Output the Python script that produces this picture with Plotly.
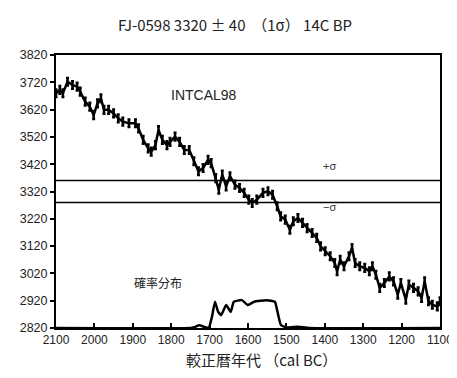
import plotly.graph_objects as go

# calibration curve (INTCAL98): cal BC vs 14C BP
cal_years = [2100, 2090, 2082, 2070, 2057, 2045, 2037, 2024, 2012, 2002, 1992, 1983,
             1975, 1963, 1950, 1938, 1926, 1910, 1893, 1885, 1873, 1860, 1852, 1841,
             1833, 1823, 1811, 1803, 1790, 1778, 1766, 1753, 1741, 1729, 1717, 1704,
             1696, 1684, 1676, 1667, 1657, 1647, 1634, 1622, 1610, 1598, 1589, 1577,
             1561, 1548, 1536, 1524, 1515, 1503, 1491, 1482, 1470, 1458, 1446, 1433,
             1421, 1411, 1399, 1386, 1374, 1368, 1360, 1350, 1337, 1329, 1321, 1309,
             1296, 1284, 1276, 1267, 1257, 1245, 1232, 1221, 1210, 1202, 1189, 1181,
             1169, 1157, 1148, 1140, 1130, 1120, 1107, 1100]
bp_values = [3680, 3692, 3680, 3722, 3710, 3704, 3686, 3649, 3631, 3600, 3643, 3661,
             3619, 3619, 3606, 3588, 3576, 3570, 3570, 3551, 3509, 3478, 3466, 3490,
             3545, 3509, 3490, 3502, 3521, 3502, 3472, 3472, 3431, 3394, 3406, 3436,
             3424, 3369, 3327, 3382, 3339, 3376, 3345, 3333, 3315, 3290, 3278, 3290,
             3315, 3321, 3308, 3266, 3229, 3217, 3180, 3211, 3223, 3205, 3186, 3168,
             3150, 3119, 3101, 3083, 3058, 3028, 3070, 3046, 3083, 3113, 3058, 3046,
             3040, 3028, 3046, 3015, 2967, 2985, 3009, 2991, 2942, 2985, 2924, 2979,
             2967, 2954, 2930, 2991, 2918, 2905, 2899, 2918]
curve_err = 14

# probability distribution, drawn on the same axis above the 2820 baseline
prob_years = [2100, 1750, 1740, 1727, 1712, 1702, 1694, 1686, 1678, 1670, 1657, 1645,
              1637, 1616, 1600, 1584, 1551, 1530, 1525, 1514, 1498, 1469, 1440, 1100]
prob_values = [2820, 2820, 2823, 2830, 2823, 2821, 2860, 2916, 2880, 2867, 2904, 2879,
               2916, 2922, 2904, 2916, 2922, 2916, 2891, 2830, 2822, 2825, 2820, 2820]

sample_bp = 3320
sample_sigma = 40

x_ticks = [2100, 2000, 1900, 1800, 1700, 1600, 1500, 1400, 1300, 1200, 1100]
y_ticks = [2820, 2920, 3020, 3120, 3220, 3320, 3420, 3520, 3620, 3720, 3820]

font = "Liberation Sans"
jp_font = "Noto Sans CJK JP"

fig = go.Figure()

# curve with its error bars
fig.add_trace(go.Scatter(
    x=cal_years, y=bp_values, mode="lines",
    line=dict(color="black", width=2.5),
    error_y=dict(type="constant", value=curve_err, color="black", thickness=2.5, width=1.5),
    hoverinfo="skip",
))

# probability distribution
fig.add_trace(go.Scatter(
    x=prob_years, y=prob_values, mode="lines",
    line=dict(color="black", width=2.5, shape="spline", smoothing=0.4),
    hoverinfo="skip",
))

# +sigma / -sigma lines
for v in [sample_bp + sample_sigma, sample_bp - sample_sigma]:
    fig.add_shape(type="line", xref="x", yref="y", x0=2100, x1=1100, y0=v, y1=v,
                  line=dict(color="black", width=1.5))

fig.add_annotation(x=1715, y=3675, text="INTCAL98", showarrow=False,
                   font=dict(family=font, size=14, color="#222"))
fig.add_annotation(x=1387, y=3413, text="+σ", showarrow=False,
                   font=dict(family=font, size=11, color="#333"))
fig.add_annotation(x=1387, y=3262, text="−σ", showarrow=False,
                   font=dict(family=font, size=11, color="#333"))
fig.add_annotation(x=1834, y=2987, text="確率分布", showarrow=False,
                   font=dict(family=jp_font, size=12, color="#222"))

fig.add_annotation(xref="paper", yref="paper", x=0.5, y=1.0, yshift=31, xshift=-13,
                   yanchor="middle", text="FJ-0598 3320 ± 40  （1σ） 14C BP",
                   showarrow=False, font=dict(family=jp_font, size=15, color="#222"))
fig.add_annotation(xref="paper", yref="paper", x=0.5, y=0, yshift=-31, xshift=13,
                   yanchor="middle", text="較正暦年代 （cal BC）",
                   showarrow=False, font=dict(family=jp_font, size=15, color="#222"))

fig.update_layout(
    width=457, height=378,
    margin=dict(l=37, r=15, t=47, b=58),
    paper_bgcolor="white", plot_bgcolor="white",
    showlegend=False,
    font=dict(family=font, size=12.5, color="#222"),
)
fig.update_xaxes(
    range=[2100, 1100], tickvals=x_ticks, ticks="inside", ticklen=5, tickwidth=1.5,
    tickcolor="black", tickfont=dict(size=12), ticklabeloverflow="allow",
    showgrid=False, zeroline=False,
    showline=True, linecolor="black", linewidth=2, mirror=True,
)
fig.update_yaxes(
    range=[2820, 3820], tickvals=y_ticks, ticks="outside",
    ticklen=4, tickwidth=1.5, tickcolor="black", showgrid=False, zeroline=False,
    showline=True, linecolor="black", linewidth=2, mirror=True,
)

fig.write_html("out.html")
